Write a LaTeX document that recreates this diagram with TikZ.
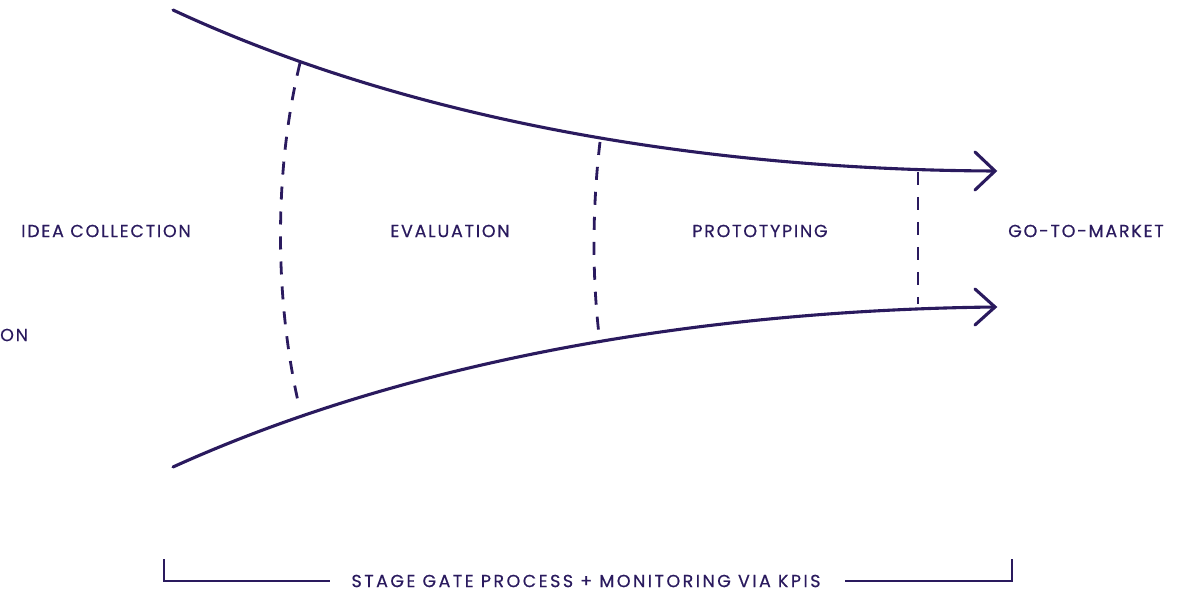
\documentclass[tikz,border=0pt]{standalone}
\usepackage{fontspec}
\setmainfont{Poppins}
\newfontfamily\lblfont[LetterSpace=10,FakeBold=0.5]{Poppins}
\newfontfamily\brkfont[LetterSpace=14,FakeBold=0.5]{Poppins}
\definecolor{ink}{HTML}{2A1A5E}
\begin{document}
\begin{tikzpicture}[x=1pt,y=-1pt,
  funnel/.style={draw=ink,line width=3.1pt,line cap=round},
  gate/.style={draw=ink,line width=2.8pt,dash pattern=on 13pt off 12pt},
  chev/.style={draw=ink,line width=3.1pt,line cap=round,line join=miter},
  lbl/.style={text=ink,font=\lblfont\fontsize{17.5}{20}\selectfont,inner sep=0pt},
  blbl/.style={text=ink,font=\brkfont\fontsize{17.5}{20}\selectfont,inner sep=0pt},
  brk/.style={draw=ink,line width=2pt}]
\useasboundingbox (0,0) rectangle (1184,593);
% funnel coordinates
\coordinate (ts) at (173,10);
\coordinate (te) at (995,171);
\coordinate (bs) at (173,467);
\coordinate (be) at (995,307);
\draw[funnel] (ts) .. controls (420,125) and (720,170) .. (te);
\draw[funnel] (bs) .. controls (420,355) and (720,310) .. (be);
% arrow heads
\draw[chev] (975,152) -- (te) -- (975,190);
\draw[chev] (975,289) -- (be) -- (975,325);
% gates
\coordinate (g1t) at (300,63);
\coordinate (g1b) at (300,410);
\coordinate (g2t) at (600,142);
\coordinate (g2b) at (600,343);
\coordinate (g3t) at (918,172);
\coordinate (g3b) at (918,304);
\draw[gate] (g1t) .. controls (274,170) and (274,300) .. (g1b);
\draw[gate] (g2t) .. controls (592,210) and (592,280) .. (g2b);
\draw[gate] (g3t) -- (g3b);
% labels
\node[lbl] (idea) at (106,231) {IDEA COLLECTION};
\node[lbl] (eval) at (450,231) {EVALUATION};
\node[lbl] (proto) at (760,231) {PROTOTYPING};
\node[lbl] (gtm) at (1086,231) {GO-TO-MARKET};
\node[lbl,anchor=west] (on) at (0,335) {ON};
% bracket
\node[blbl] (sg) at (586,581) {STAGE GATE PROCESS + MONITORING VIA KPIS};
\coordinate (bl) at (164,559);
\coordinate (br) at (1012,559);
\draw[brk] (bl) |- ([xshift=-21pt]sg.west);
\draw[brk] (br) |- ([xshift=24pt]sg.east);
\end{tikzpicture}
\end{document}
